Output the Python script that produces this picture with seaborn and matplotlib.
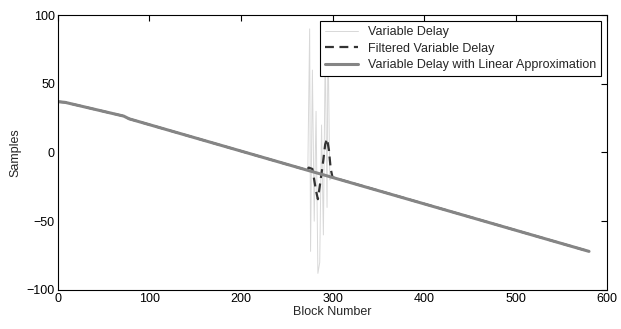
import matplotlib
matplotlib.use("Agg")
import matplotlib.pyplot as plt
import seaborn as sns
import pandas as pd

# raw variable delay (spikes around block 275-300, otherwise on the trend)
var_blocks = [0, 8, 72, 78, 271, 273, 275, 276, 278, 280, 282, 284, 286, 288,
              290, 292, 294, 295, 297, 299, 301, 580]
var_delay = [37, 36.5, 26.5, 24.5, -12.6, -13, 90, -72, 60, -50, 30, -88, -80, 20,
             -60, 75, -40, 88, -20, -18, -18.4, -72]

# filtered variable delay
filt_blocks = [0, 8, 72, 78, 272, 274, 278, 282, 284, 287, 290, 292, 294, 296,
               298, 300, 580]
filt_delay = [37, 36.5, 26.5, 24.5, -12.8, -11, -12, -28, -34, -20, -5, 6, 10, 2,
              -12, -18.1, -72]

# linear approximation
lin_blocks = [0, 8, 72, 78, 580]
lin_delay = [37, 36.5, 26.5, 24.5, -72]

df_var = pd.DataFrame({"block": var_blocks, "delay": var_delay})
df_filt = pd.DataFrame({"block": filt_blocks, "delay": filt_delay})
df_lin = pd.DataFrame({"block": lin_blocks, "delay": lin_delay})

sns.set_style("white")
plt.rcParams["font.family"] = ["Liberation Sans Narrow", "Liberation Sans", "DejaVu Sans"]

fig = plt.figure(figsize=(6.21, 3.29), dpi=100)
ax = fig.add_axes([0.093, 0.119, 0.885, 0.835])

sns.lineplot(data=df_var, x="block", y="delay", ax=ax, color="#d8d8d8",
             linewidth=0.7, label="Variable Delay", sort=False)
sns.lineplot(data=df_filt, x="block", y="delay", ax=ax, color="#333333",
             linewidth=1.6, linestyle=(0, (4, 2.5)), label="Filtered Variable Delay", sort=False)
sns.lineplot(data=df_lin, x="block", y="delay", ax=ax, color="#858585",
             linewidth=2.2, label="Variable Delay with Linear Approximation", sort=False)

ax.set_xlim(0, 600)
ax.set_ylim(-100, 100)
ax.set_xticks([0, 100, 200, 300, 400, 500, 600])
ax.set_yticks([-100, -50, 0, 50, 100])
ax.tick_params(direction="in", top=True, right=True, length=4, width=0.8,
               labelsize=9, colors="black", pad=2)
for s in ax.spines.values():
    s.set_color("black")
    s.set_linewidth(0.8)
ax.set_xlabel("Block Number", fontsize=9, labelpad=1)
ax.set_ylabel("Samples", fontsize=9, labelpad=4)

leg = ax.legend(loc="upper right", fontsize=9, frameon=True, fancybox=False,
                edgecolor="black", framealpha=1, borderpad=0.4, labelspacing=0.35,
                handlelength=2.6, borderaxespad=0.5)
leg.get_frame().set_linewidth(0.8)

fig.savefig("out.png", dpi=100)
